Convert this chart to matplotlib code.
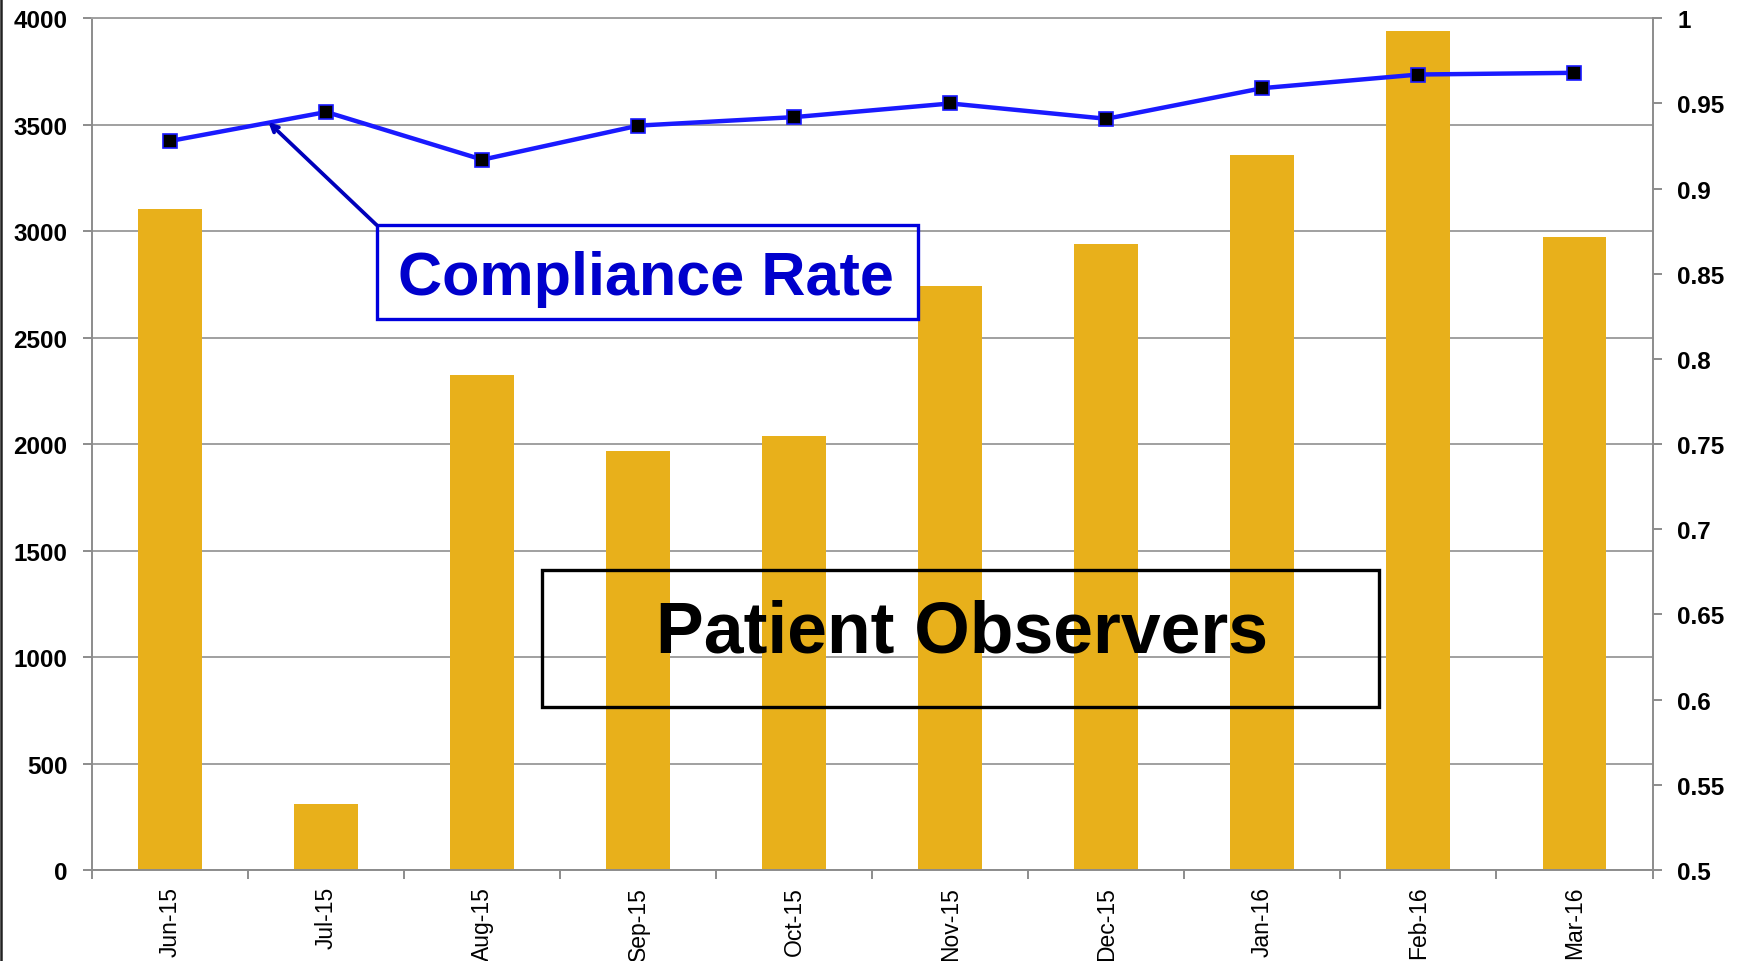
import matplotlib
matplotlib.use("Agg")
import matplotlib.pyplot as plt
from matplotlib.patches import Rectangle
from matplotlib.lines import Line2D

# data
months = ['Jun-15', 'Jul-15', 'Aug-15', 'Sep-15', 'Oct-15',
          'Nov-15', 'Dec-15', 'Jan-16', 'Feb-16', 'Mar-16']
observers = [3105, 312, 2325, 1970, 2040, 2745, 2940, 3360, 3942, 2972]
compliance = [0.928, 0.945, 0.917, 0.937, 0.942, 0.950, 0.941, 0.959, 0.967, 0.968]

left_ticks = [0, 500, 1000, 1500, 2000, 2500, 3000, 3500, 4000]
right_ticks = [0.5, 0.55, 0.6, 0.65, 0.7, 0.75, 0.8, 0.85, 0.9, 0.95, 1.0]
right_labels = ['0.5', '0.55', '0.6', '0.65', '0.7', '0.75', '0.8', '0.85', '0.9', '0.95', '1']

plt.rcParams['font.family'] = ['Liberation Sans', 'DejaVu Sans']

grid_c = '#a0a0a0'
axis_c = '#8c8c8c'

fig = plt.figure(figsize=(17.39, 9.62), dpi=100)
ax = fig.add_axes([0.05308, 0.09459, 0.89718, 0.88535])
x = list(range(len(months)))

# bars
ax.bar(x, observers, width=0.41, color='#e8b01b', zorder=2)
ax.set_xlim(-0.5, len(months) - 0.5)
ax.set_ylim(0, 4000)
ax.set_yticks(left_ticks)
ax.set_yticklabels([str(v) for v in left_ticks], fontsize=17.5, fontweight='bold')
ax.yaxis.grid(True, color=grid_c, lw=1.4, zorder=0)
ax.set_axisbelow(True)

ax.set_xticks(x)
ax.set_xticklabels(months, rotation=90, fontsize=16.5)
ax.set_xticks([i - 0.5 for i in range(len(months) + 1)], minor=True)
ax.tick_params(axis='x', which='major', length=0, pad=11.3)
ax.tick_params(axis='x', which='minor', length=6.5, width=1.4, color=axis_c, direction='out')
ax.tick_params(axis='y', length=6.5, width=1.4, color=axis_c, pad=11.3)

for s in ['left', 'bottom']:
    ax.spines[s].set_color(axis_c)
    ax.spines[s].set_linewidth(1.4)
ax.spines['top'].set_color(grid_c)
ax.spines['top'].set_linewidth(1.4)
ax.spines['right'].set_visible(False)

# compliance rate line on the right axis
ax2 = ax.twinx()
ax2.plot(x, compliance, color='#1a1aff', lw=3.2, marker='s', markersize=10,
         markerfacecolor='black', markeredgecolor='#1a1aff', markeredgewidth=1.2, zorder=3)
ax2.set_ylim(0.5, 1.0)
ax2.set_yticks(right_ticks)
ax2.set_yticklabels(right_labels, fontsize=17.5, fontweight='bold')
ax2.tick_params(axis='y', length=6.5, width=1.4, color=axis_c, pad=11.3)
for s in ['left', 'bottom', 'top']:
    ax2.spines[s].set_visible(False)
ax2.spines['right'].set_color(axis_c)
ax2.spines['right'].set_linewidth(1.4)

# callout boxes
ax2.add_patch(Rectangle((0.1822, 0.6475), 0.3470, 0.1098, transform=ax.transAxes,
                        fill=False, edgecolor='#0000dd', lw=2.4, zorder=5))
ax2.text(0.3549, 0.6763, 'Compliance Rate', transform=ax.transAxes, ha='center',
         va='baseline', fontsize=44, fontweight='bold', color='#0000cc', zorder=6)
ax2.annotate('', xy=(0.629, 0.939), xycoords='data',
             xytext=(0.1822, 0.7573), textcoords=ax.transAxes,
             arrowprops=dict(arrowstyle='->,head_length=0.5,head_width=0.25',
                             color='#0000bb', lw=2.7, shrinkA=0, shrinkB=0), zorder=5)

ax2.add_patch(Rectangle((0.2885, 0.1908), 0.5360, 0.1614, transform=ax.transAxes,
                        fill=False, edgecolor='black', lw=2.4, zorder=5))
ax2.text(0.5574, 0.2568, 'Patient Observers', transform=ax.transAxes, ha='center',
         va='baseline', fontsize=51.5, fontweight='bold', color='black', zorder=6)

# dark edge on the left of the picture
fig.add_artist(Line2D([0.0008, 0.0008], [0, 1], color='#222222', lw=1.8))

fig.savefig('out.png', dpi=100)
